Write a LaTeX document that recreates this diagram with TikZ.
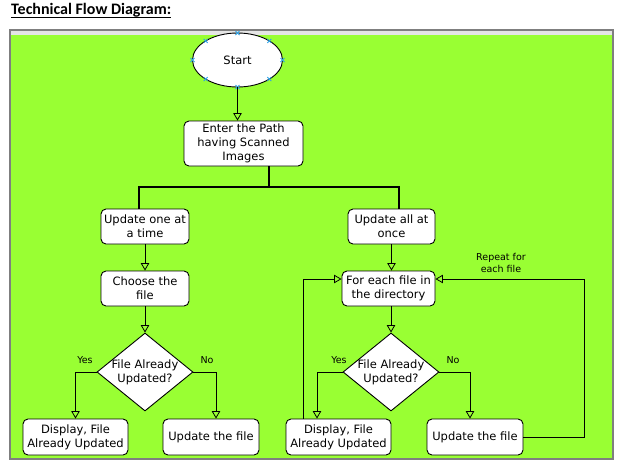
\documentclass[tikz,border=0pt]{standalone}
\usepackage{fontspec}
\setmainfont{DejaVu Sans}
\newfontfamily\titlefont{Carlito}
\usetikzlibrary{shapes.geometric,arrows.meta}
\definecolor{bggreen}{HTML}{99FF33}
\definecolor{framegray}{HTML}{7F7F7F}
\definecolor{handleblue}{HTML}{2FA4E7}
\tikzset{
  boxnode/.style={draw=black, line width=0.9pt, fill=white, rounded corners=5pt, align=center, inner sep=1pt, font=\fontsize{11.5}{14}\selectfont},
  dianode/.style={draw=black, line width=0.9pt, fill=white, diamond, minimum width=96pt, minimum height=78pt, inner sep=0pt},
  diatext/.style={align=center, inner sep=0pt, font=\fontsize{11.5}{14}\selectfont},
  lbl/.style={inner sep=0pt, align=center, font=\fontsize{9.5}{12}\selectfont},
  arr/.style={draw=black, line width=0.8pt, -{Triangle[open, length=7.5pt, width=8.5pt]}},
  branch/.style={draw=black, line width=1.8pt},
  handle/.style={draw=handleblue, line width=0.8pt},
}
\begin{document}
\begin{tikzpicture}[x=1pt,y=-1pt]
\useasboundingbox (0,0) rectangle (633,467);
\fill[white] (0,0) rectangle (633,467);
\fill[bggreen] (10,30) rectangle (613,459);
\fill[gray!20] (10,30) rectangle (613,35);
\draw[framegray, line width=1.1pt] (10,30) rectangle (613,459);

% title
\node[anchor=base west, inner sep=0pt, font=\titlefont\bfseries\fontsize{16}{18}\selectfont] (title) at (11,14.5) {Technical Flow Diagram:};
\draw[line width=1.1pt] ([yshift=-2.6pt]title.base west) -- ([yshift=-2.6pt]title.base east);

% nodes
\node[draw=black, line width=0.9pt, fill=white, ellipse, minimum width=90pt, minimum height=54pt, inner sep=0pt, font=\fontsize{11.5}{13}\selectfont] (start) at (237.5,60) {Start};
\node[boxnode, minimum width=119pt, minimum height=45pt] (enter) at (243.5,143.5) {Enter the Path\\having Scanned\\Images};

\node[boxnode, minimum width=88pt, minimum height=35pt] (one) at (145,226.5) {Update one at\\a time};
\node[boxnode, minimum width=88pt, minimum height=35pt] (choose) at (145,288.5) {Choose the\\file};
\node[dianode] (d1) at (145,372) {};
\node[diatext] (d1t) at (145,372) {File Already\\Updated?};
\node[boxnode, minimum width=105pt, minimum height=36pt] (disp1) at (75.5,437) {Display, File\\Already Updated};
\node[boxnode, minimum width=96pt, minimum height=36pt] (upd1) at (211,437) {Update the file};

\node[boxnode, minimum width=87pt, minimum height=35pt] (all) at (391.5,226.5) {Update all at\\once};
\node[boxnode, minimum width=93pt, minimum height=35pt] (each) at (388.5,288.5) {For each file in\\the directory};
\node[dianode] (d2) at (391,372) {};
\node[diatext] (d2t) at (391,372) {File Already\\Updated?};
\node[boxnode, minimum width=105pt, minimum height=36pt] (disp2) at (338.5,437) {Display, File\\Already Updated};
\node[boxnode, minimum width=96pt, minimum height=36pt] (upd2) at (475,437) {Update the file};

% labels
\node[lbl] (yes1) at (85,360) {Yes};
\node[lbl] (no1) at (207,360) {No};
\node[lbl] (yes2) at (339,360) {Yes};
\node[lbl] (no2) at (453,360) {No};
\node[lbl] (rep) at (501,263) {Repeat for\\each file};

% handles on start ellipse
\foreach \dx/\dy in {0/-27,0/27,-45/0,45/0,-31.8/-19.1,31.8/-19.1,-31.8/19.1,31.8/19.1}{
  \draw[handle] ([shift={(\dx,\dy)}]start.center) ++(-2,-2) -- ++(4,4) ++(0,-4) -- ++(-4,4);
}

% connectors
\draw[arr] (start.south) -- (start.south |- enter.north);
\coordinate (j) at (269,187);
\draw[branch] ([xshift=25.5pt]enter.south) -- (j) -| ([xshift=-6pt]one.north);
\draw[branch] (j) -| ([xshift=7.5pt]all.north);

\draw[arr] (one.south) -- (choose.north);
\draw[arr] (choose.south) -- (d1.north);
\draw[arr] (d1.west) -| (disp1.north);
\draw[arr] (d1.east) -| ([xshift=5pt]upd1.north);

\draw[arr] (all.south) -- (all.south |- each.north);
\draw[arr] (each.south -| d2.north) -- (d2.north);
\draw[arr] (d2.west) -| ([xshift=-21.5pt]disp2.north);
\draw[arr] (d2.east) -| ([xshift=-5pt]upd2.north);

\draw[arr] ([xshift=-35.5pt]disp2.north) |- ([yshift=9.5pt]each.west);
\coordinate (rp) at (584,279);
\draw[arr] (upd2.east) -| (rp) -- ([yshift=9.5pt]each.east);
\end{tikzpicture}
\end{document}
